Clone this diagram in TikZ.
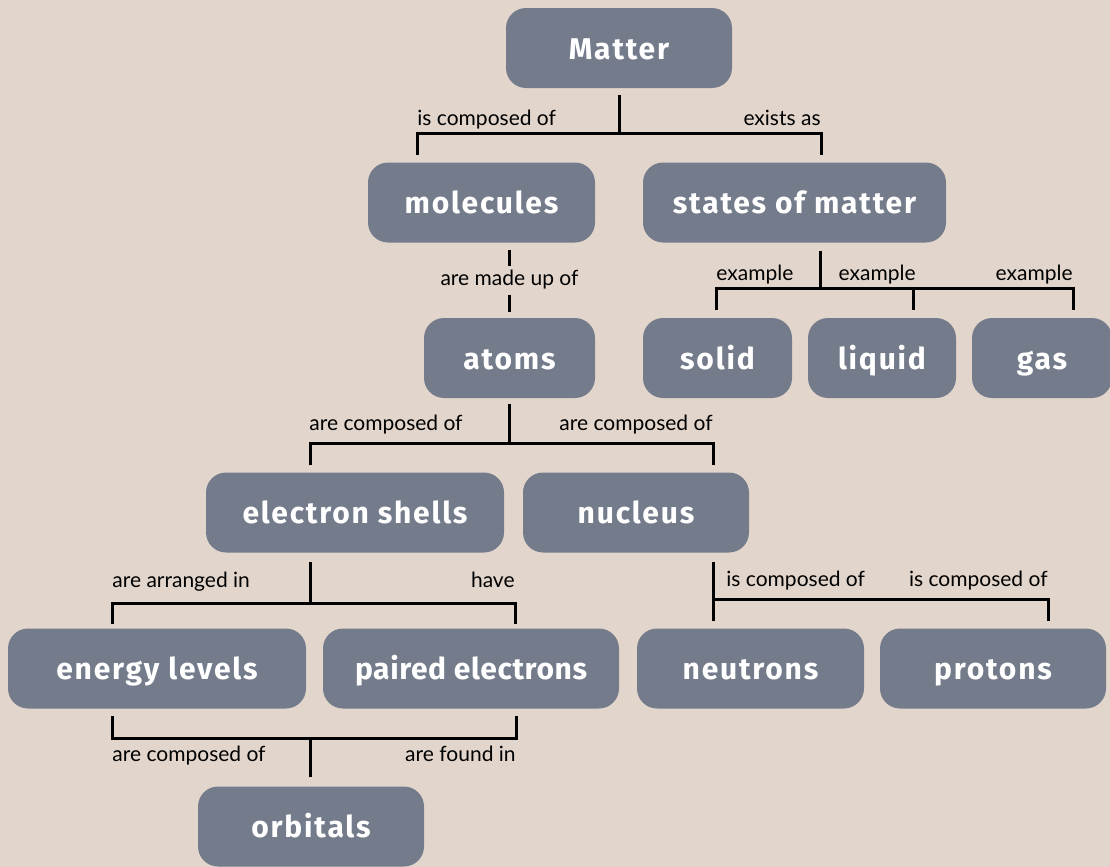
\documentclass[tikz,border=0pt]{standalone}
\usepackage{fontspec}
\setmainfont{Lato}
\newfontfamily\conceptfont{Fira Sans}[LetterSpace=6]
\newfontfamily\tightfont{Fira Sans}[LetterSpace=2]
\usetikzlibrary{positioning}
\definecolor{paper}{HTML}{E2D6CC}
\definecolor{slate}{HTML}{747C8C}

\begin{document}
\begin{tikzpicture}[x=0.5pt, y=-0.5pt,
    concept/.style = {shape=rectangle, rounded corners=10pt, fill=slate, text=white, inner sep=0pt,
      minimum height=40pt, text height=14pt, text depth=3pt,
      font=\conceptfont\bfseries\fontsize{15}{18}\selectfont},
    link/.style = {line width=1.5pt},
    rel/.style = {inner sep=0pt, font=\fontsize{10.5}{12}\selectfont}]
  \fill[paper] (0,0) rectangle (1110,867);
  \useasboundingbox (0,0) rectangle (1110,867);

  % concepts
  \node[concept, minimum width=113pt] (matter) at (619,48) {Matter};
  \node[concept, minimum width=113.5pt] (molecules) at (481.5,202.5) {molecules};
  \node[concept, minimum width=151.5pt] (states) at (794.5,202.5) {states of matter};
  \node[concept, minimum width=85.5pt] (atoms) at (509.5,358) {atoms};
  \node[concept, minimum width=74.5pt] (solid) at (717.5,358) {solid};
  \node[concept, minimum width=74pt] (liquid) at (882,358) {liquid};
  \node[concept, minimum width=70pt] (gas) at (1042,358) {gas};
  \node[concept, minimum width=149pt] (shells) at (355,512.5) {electron shells};
  \node[concept, minimum width=113pt] (nucleus) at (636,512.5) {nucleus};
  \node[concept, minimum width=149pt] (levels) at (157,668.5) {energy levels};
  \node[concept, minimum width=148pt, font=\tightfont\bfseries\fontsize{15}{18}\selectfont] (paired) at (471,668.5) {paired electrons};
  \node[concept, minimum width=113.5pt] (neutrons) at (750.5,668.5) {neutrons};
  \node[concept, minimum width=113pt] (protons) at (993,668.5) {protons};
  \node[concept, minimum width=113pt] (orbitals) at (311,826.5) {orbitals};

  % Matter
  \coordinate (jmatter) at (619,133);
  \draw[link] (matter.south) ++(0,7) -- (jmatter);
  \draw[link] (417,155) |- (jmatter) -| (821,155);
  \node[rel, anchor=base west] (l1) at (417,125) {is composed of};
  \node[rel, anchor=base east] (l2) at (821,125) {exists as};

  % molecules -> atoms
  \draw[link, shorten <=3.75pt, shorten >=3pt] (molecules.south -| atoms.north) --
    node[rel, fill=paper, text height=8pt, text depth=2.5pt, inner ysep=2pt, inner xsep=1pt] (l3) {are made up of} (atoms.north);

  % states of matter
  \coordinate (jstates) at (820,288);
  \draw[link] (states.south -| jstates) ++(0,8) -- (jstates);
  \draw[link] (716,310) |- (1073,288) -- (1073,310);
  \draw[link] (913,288) -- (913,310);
  \node[rel, anchor=base west] (l4) at (716,280) {example};
  \node[rel, anchor=base east] (l5) at (916,280) {example};
  \node[rel, anchor=base east] (l6) at (1073,280) {example};

  % atoms
  \coordinate (jatoms) at (509.5,443);
  \draw[link] (atoms.south) ++(0,6) -- (jatoms);
  \draw[link] (310,465) |- (jatoms) -| (713,465);
  \node[rel, anchor=base west] (l7) at (309,430) {are composed of};
  \node[rel, anchor=base east] (l8) at (713,430) {are composed of};

  % electron shells
  \coordinate (jshells) at (310,603);
  \draw[link] (shells.south -| jshells) ++(0,9) -- (jshells);
  \draw[link] (112,624) |- (jshells) -| (515,624);
  \node[rel, anchor=base west] (l9) at (112,587) {are arranged in};
  \node[rel, anchor=base east] (l10) at (515,587) {have};

  % nucleus
  \coordinate (jnucleus) at (713,599);
  \draw[link] (nucleus.south -| jnucleus) ++(0,9) -- (713,621);
  \draw[link] (jnucleus) -| (1048,621);
  \node[rel, anchor=base west] (l11) at (726,586) {is composed of};
  \node[rel, anchor=base east] (l12) at (1048,586) {is composed of};

  % orbitals
  \coordinate (jorbitals) at (310,738);
  \draw[link] (112,716) |- (jorbitals) -| (516,716);
  \draw[link] (jorbitals) -- ++(0,39);
  \node[rel, anchor=base west] (l13) at (112,761) {are composed of};
  \node[rel, anchor=base east] (l14) at (516,761) {are found in};
\end{tikzpicture}
\end{document}
